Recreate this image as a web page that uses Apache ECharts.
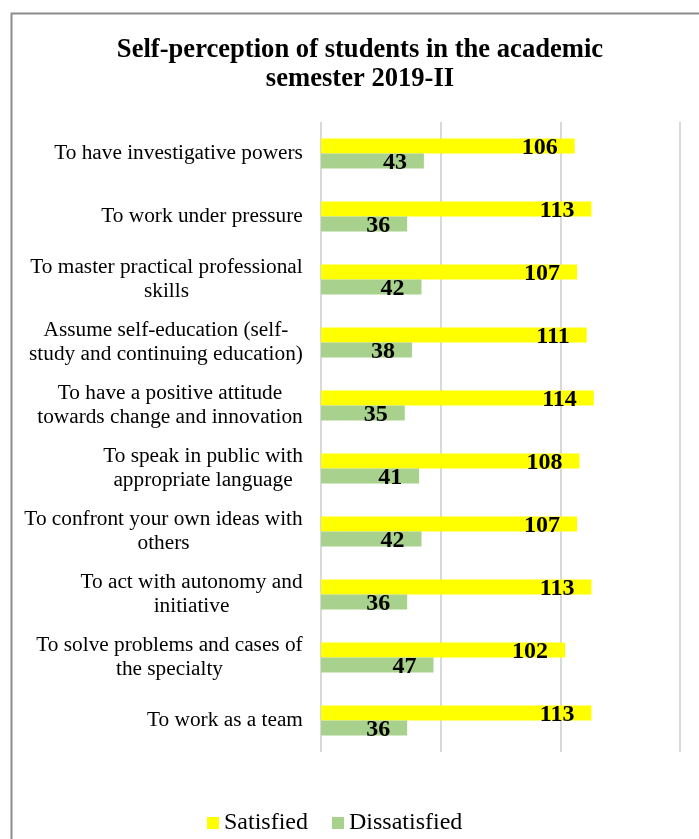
<!DOCTYPE html>
<html>
<head>
<meta charset="utf-8">
<script src="https://cdn.jsdelivr.net/npm/echarts@6/dist/echarts.min.js"></script>
<style>html,body{margin:0;padding:0;background:#fff;}#c{width:699px;height:839px;}</style>
</head>
<body>
<div id="c"></div>
<script>
const titleText = 'Self-perception of students in the academic\nsemester 2019-II';
const categories = [
  'To have investigative powers',
  'To work under pressure',
  'To master practical professional\nskills',
  'Assume self-education (self-\nstudy and continuing education)',
  'To have a positive attitude\ntowards change and innovation',
  'To speak in public with\nappropriate language',
  'To confront your own ideas with\nothers',
  'To act with autonomy and\ninitiative',
  'To solve problems and cases of\nthe specialty',
  'To work as a team'
];
const seriesNames = ['Satisfied', 'Dissatisfied'];
const satisfied = [106, 113, 107, 111, 114, 108, 107, 113, 102, 113];
const dissatisfied = [43, 36, 42, 38, 35, 41, 42, 36, 47, 36];
const xMin = 0, xMax = 150, xInterval = 50;

const FONT = '"Liberation Serif", "Times New Roman", serif';
const labelSize = 21.3;
// build rich styles so multi-line labels are centered within their block
const ctx = document.createElement('canvas').getContext('2d');
ctx.font = labelSize + 'px ' + FONT;
const rich = {};
const labelMap = {};
categories.forEach((c, i) => {
  const lines = c.split('\n');
  const w = Math.ceil(Math.max(...lines.map(l => ctx.measureText(l).width)));
  rich['r' + i] = {width: w, align: 'center', fontFamily: FONT, fontSize: labelSize, color: '#000', lineHeight: 24};
  labelMap[c] = lines.map(l => '{r' + i + '|' + l + '}').join('\n');
});

const chart = echarts.init(document.getElementById('c'));
chart.setOption({
  animation: false,
  backgroundColor: '#fff',
  graphic: [{
    type: 'rect', left: 9, top: 11,
    shape: {width: 720, height: 860},
    style: {fill: 'none', stroke: '#8c8c8c', lineWidth: 2},
    silent: true, z: 100
  }],
  title: {
    text: titleText, left: 355, textAlign: 'center', top: 31,
    textStyle: {fontFamily: FONT, fontWeight: 'bold', fontSize: 26.6, color: '#000', lineHeight: 29}
  },
  legend: {
    data: seriesNames, top: 806, left: 202, itemWidth: 12, itemHeight: 12, itemGap: 24,
    icon: 'rect',
    textStyle: {fontFamily: FONT, fontSize: 24, color: '#000'}
  },
  grid: {left: 321, right: 19, top: 122, bottom: 87, containLabel: false},
  xAxis: {
    type: 'value', min: xMin, max: xMax, interval: xInterval,
    axisLabel: {show: false}, axisLine: {show: false}, axisTick: {show: false},
    splitLine: {show: true, lineStyle: {color: '#d9d9d9', width: 2}}
  },
  yAxis: {
    type: 'category', data: categories, inverse: true,
    axisLine: {show: false}, axisTick: {show: false},
    axisLabel: {margin: 18, formatter: v => labelMap[v], rich: rich}
  },
  series: [
    {
      name: seriesNames[0], type: 'bar', data: satisfied, barGap: '0%', barCategoryGap: '52%',
      itemStyle: {color: '#ffff00'},
      label: {show: true, position: 'insideRight', distance: 17, offset: [0, 2],
        fontFamily: FONT, fontWeight: 'bold', fontSize: 24, color: '#000'}
    },
    {
      name: seriesNames[1], type: 'bar', data: dissatisfied, barGap: '0%', barCategoryGap: '52%',
      itemStyle: {color: '#a9d18e'},
      label: {show: true, position: 'insideRight', distance: 17, offset: [0, 2],
        fontFamily: FONT, fontWeight: 'bold', fontSize: 24, color: '#000'}
    }
  ]
});
</script>
</body>
</html>
